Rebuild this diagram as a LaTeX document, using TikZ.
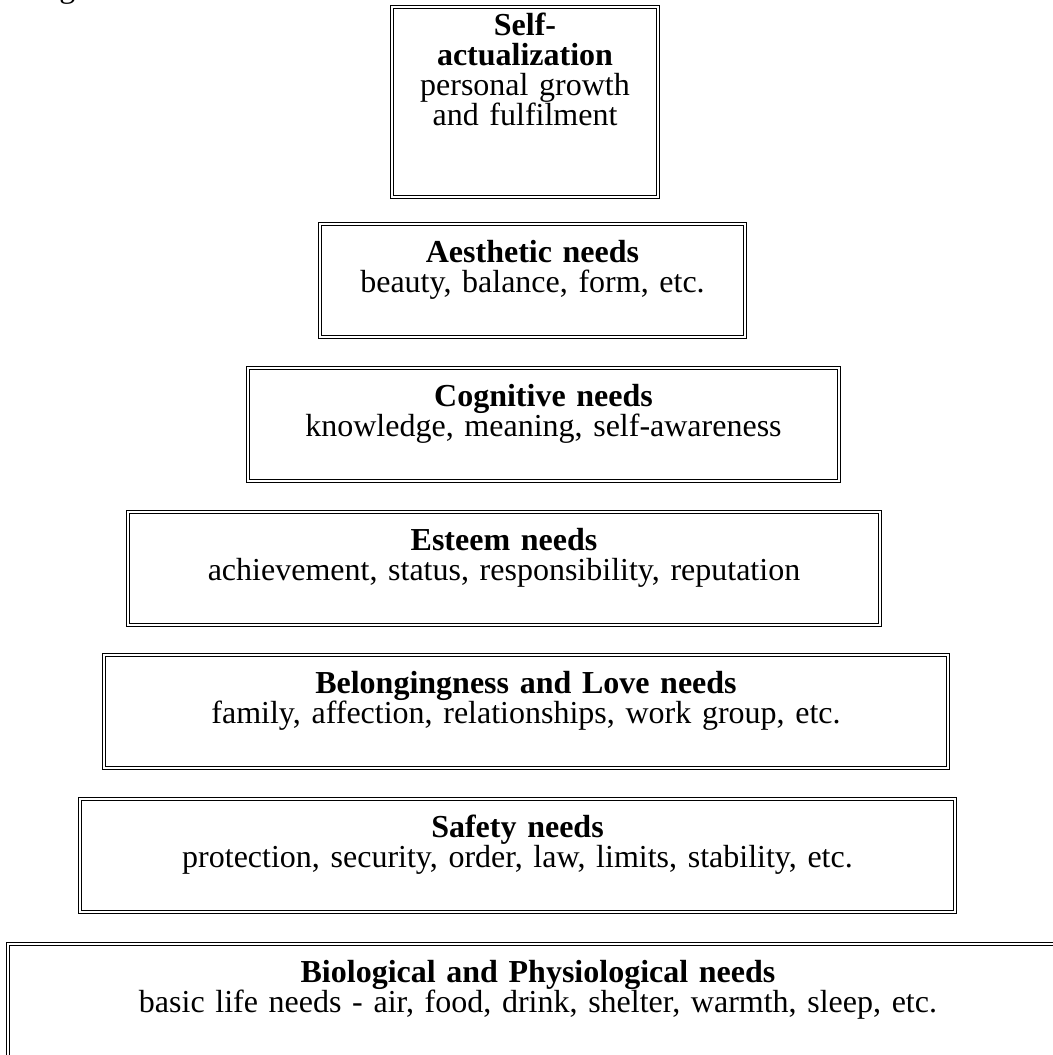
\documentclass[tikz,border=0pt]{standalone}
\usepackage{fontspec}
\setmainfont{Liberation Serif}
\lineskiplimit=-\maxdimen

\tikzset{
  needbox/.style={draw, double, double distance=1pt, line width=0.6pt,
    anchor=north west, outer sep=0pt, inner xsep=0pt, inner ysep=0pt,
    align=center, font=\fontsize{16}{15}\selectfont,
    text height=19pt, text depth=37.5pt},
}

\begin{document}
\begin{tikzpicture}[x=0.5pt,y=-0.5pt]
\useasboundingbox (0,0) rectangle (1053,1055);
\clip (0,0) rectangle (1053,1055);

\node[anchor=base west, inner sep=0pt, font=\fontsize{16}{15}\selectfont] (textabove) at (59,-3) {g};

\node[needbox, text width=133pt, text height=14pt, text depth=81pt] (selfact) at (392,7)
  {\textbf{Self-}\\\textbf{actualization}\\personal growth\\and fulfilment};
\node[needbox, text width=212.5pt] (aesthetic) at (320,224)
  {\textbf{Aesthetic needs}\\beauty, balance, form, etc.};
\node[needbox, text width=295.5pt] (cognitive) at (248,368)
  {\textbf{Cognitive needs}\\knowledge, meaning, self-awareness};
\node[needbox, text width=376pt] (esteem) at (128,512)
  {\textbf{Esteem needs}\\achievement, status, responsibility, reputation};
\node[needbox, text width=422pt] (belonging) at (104,655)
  {\textbf{Belongingness and Love needs}\\family, affection, relationships, work group, etc.};
\node[needbox, text width=437.5pt] (safety) at (80,799)
  {\textbf{Safety needs}\\protection, security, order, law, limits, stability, etc.};
\node[needbox, text width=530pt] (biological) at (8,944)
  {\textbf{Biological and Physiological needs}\\basic life needs - air, food, drink, shelter, warmth, sleep, etc.};

\end{tikzpicture}
\end{document}
